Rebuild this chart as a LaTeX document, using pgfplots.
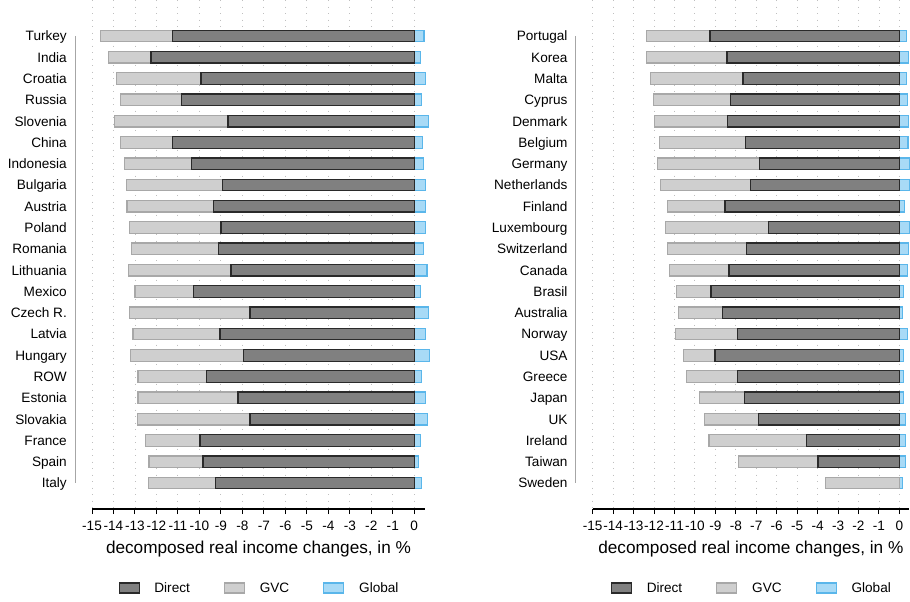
\documentclass[border=0pt]{standalone}
\usepackage{fontspec}
\setmainfont{Liberation Sans}
\usepackage{pgfplots}
\pgfplotsset{compat=1.18}
\usepackage{pgfplotstable}

\definecolor{dirfill}{HTML}{808080}
\definecolor{dirdraw}{HTML}{2A2A2A}
\definecolor{gvcfill}{HTML}{CFCFCF}
\definecolor{gvcdraw}{HTML}{A8A8A8}
\definecolor{glofill}{HTML}{A8DAF6}
\definecolor{glodraw}{HTML}{5AB6EA}

% left panel: idx direct gvc global
\pgfplotstableread{
idx direct gvc global
0 -11.24 -3.37 0.45
1 -12.25 -1.99 0.28
2 -9.93 -3.94 0.51
3 -10.82 -2.86 0.34
4 -8.67 -5.29 0.65
5 -11.27 -2.41 0.39
6 -10.38 -3.10 0.42
7 -8.93 -4.47 0.53
8 -9.35 -4.02 0.53
9 -9.00 -4.26 0.53
10 -9.13 -4.04 0.44
11 -8.53 -4.78 0.59
12 -10.27 -2.73 0.28
13 -7.65 -5.61 0.67
14 -9.04 -4.05 0.53
15 -7.93 -5.28 0.71
16 -9.68 -3.18 0.34
17 -8.20 -4.66 0.53
18 -7.65 -5.25 0.62
19 -9.97 -2.53 0.30
20 -9.83 -2.52 0.20
21 -9.27 -3.11 0.34
}\lefttab

% right panel
\pgfplotstableread{
idx direct gvc global
0 -9.26 -3.12 0.34
1 -8.43 -3.95 0.44
2 -7.65 -4.53 0.34
3 -8.28 -3.75 0.39
4 -8.40 -3.57 0.44
5 -7.53 -4.21 0.42
6 -6.86 -4.98 0.51
7 -7.30 -4.39 0.51
8 -8.53 -2.80 0.25
9 -6.42 -5.03 0.51
10 -7.47 -3.88 0.44
11 -8.33 -2.92 0.39
12 -9.21 -1.70 0.20
13 -8.67 -2.12 0.15
14 -7.91 -3.05 0.39
15 -9.02 -1.55 0.21
16 -7.91 -2.49 0.20
17 -7.57 -2.20 0.21
18 -6.91 -2.63 0.28
19 -4.55 -4.76 0.31
20 -3.98 -3.90 0.31
21 0 -3.62 0.16
}\righttab

\pgfplotsset{
  panel/.style={
    scale only axis, height=509pt,
    xmin=-15, ymin=-1.691, ymax=22.22, y dir=reverse,
    axis x line*=bottom, axis y line*=left,
    y axis line style={draw=none}, ytick style={draw=none},
    x axis line style={line width=1.2pt, black},
    xtick style={line width=1pt, black},
    tick align=outside, major tick length=5pt,
    xtick={-15,-14,...,0},
    xticklabels={-15,-14,-13,-12,-11,-10,-9,-8,-7,-6,-5,-4,-3,-2,-1,0},
    ytick={0,1,...,21},
    xmajorgrids,
    grid style={color=black!25, line width=0.9pt, dash pattern=on 0.9pt off 5.6pt},
    tick label style={font=\fontsize{13.6}{16}\selectfont, black},
    yticklabel style={anchor=base east, inner sep=0pt, xshift=-20pt, yshift=-4.9pt},
    xticklabel style={anchor=base, inner sep=0pt, yshift=-16pt},
    xlabel={decomposed real income changes, in \%},
    xlabel style={font=\fontsize{17.2}{20}\selectfont, at={(axis description cs:0.5,0)}, anchor=base, yshift=-44.5pt},
    clip=false,
    legend image code/.code={\draw[##1, line width=1.2pt] (0pt,-5pt) rectangle (20pt,5pt);},
    legend style={draw=none, fill=none, at={(0.5,0)}, anchor=center, yshift=-79pt,
      legend columns=3, font=\fontsize{13.6}{16}\selectfont,
      nodes={inner sep=0pt},
      /tikz/every odd column/.append style={column sep=14.7pt},
      /tikz/every even column/.append style={column sep=34pt},
      cells={anchor=west}},
  },
  barsty/.style={xbar, bar width=11.6pt, bar shift=0pt, line width=1.2pt, forget plot},
}

\begin{document}
\begin{tikzpicture}
\path[use as bounding box] (0,0) rectangle (910pt,602pt);

\begin{axis}[panel, at={(92pt,93pt)}, anchor=south west, width=333pt, xmax=0.5,
  yticklabels={Turkey,India,Croatia,Russia,Slovenia,China,Indonesia,Bulgaria,Austria,Poland,Romania,Lithuania,Mexico,Czech R.,Latvia,Hungary,ROW,Estonia,Slovakia,France,Spain,Italy}]
\addlegendimage{fill=dirfill, draw=dirdraw}
\addlegendentry{Direct}
\addlegendimage{fill=gvcfill, draw=gvcdraw}
\addlegendentry{GVC}
\addlegendimage{fill=glofill, draw=glodraw}
\addlegendentry{Global}
\addplot[barsty, fill=glofill, draw=glodraw] table[x=global, y=idx]{\lefttab};
\addplot[barsty, fill=gvcfill, draw=gvcdraw] table[x expr=\thisrow{direct}+\thisrow{gvc}, y=idx]{\lefttab};
\addplot[barsty, fill=dirfill, draw=dirdraw] table[x=direct, y=idx]{\lefttab};
\draw[black!35, line width=1pt] ([xshift=-17pt]axis cs:-15,0) -- ([xshift=-17pt]axis cs:-15,21);
\end{axis}

\begin{axis}[panel, at={(592.7pt,93pt)}, anchor=south west, width=316.3pt, xmax=0.47,
  yticklabels={Portugal,Korea,Malta,Cyprus,Denmark,Belgium,Germany,Netherlands,Finland,Luxembourg,Switzerland,Canada,Brasil,Australia,Norway,USA,Greece,Japan,UK,Ireland,Taiwan,Sweden}]
\addlegendimage{fill=dirfill, draw=dirdraw}
\addlegendentry{Direct}
\addlegendimage{fill=gvcfill, draw=gvcdraw}
\addlegendentry{GVC}
\addlegendimage{fill=glofill, draw=glodraw}
\addlegendentry{Global}
\addplot[barsty, fill=glofill, draw=glodraw] table[x=global, y=idx]{\righttab};
\addplot[barsty, fill=gvcfill, draw=gvcdraw] table[x expr=\thisrow{direct}+\thisrow{gvc}, y=idx]{\righttab};
\addplot[barsty, fill=dirfill, draw=dirdraw, x filter/.expression={x==0 ? nan : x}] table[x=direct, y=idx]{\righttab};
\draw[black!35, line width=1pt] ([xshift=-17pt]axis cs:-15,0) -- ([xshift=-17pt]axis cs:-15,21);
\end{axis}
\end{tikzpicture}
\end{document}
